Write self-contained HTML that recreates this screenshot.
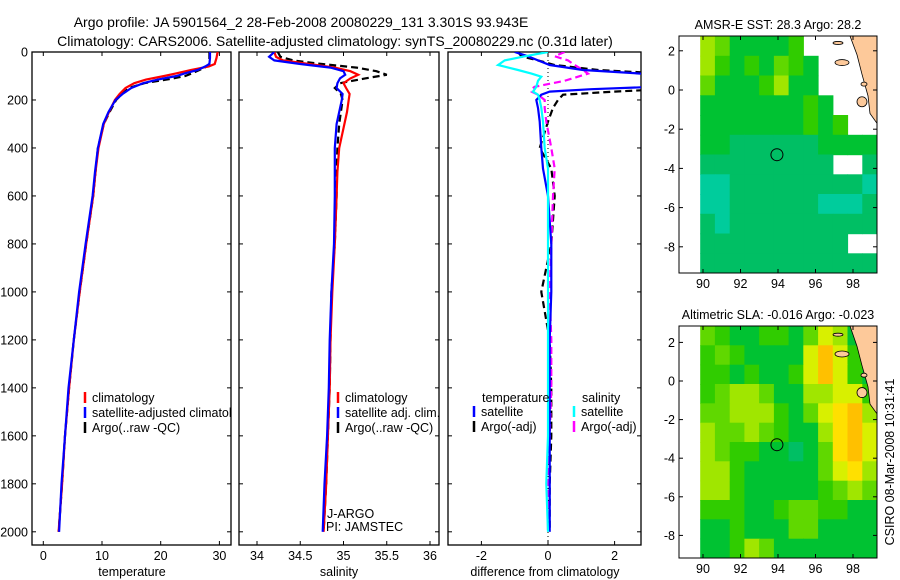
<!DOCTYPE html>
<html><head><meta charset="utf-8"><style>
html,body{margin:0;padding:0;background:#fff;}
svg{display:block;font-family:"Liberation Sans",sans-serif;}
</style></head><body>
<svg id="fig" width="900" height="580" viewBox="0 0 900 580" xmlns="http://www.w3.org/2000/svg">
<text x="301" y="27" font-size="14" text-anchor="middle">Argo profile: JA 5901564_2 28-Feb-2008 20080229_131 3.301S 93.943E</text>
<text x="335" y="46" font-size="14" text-anchor="middle">Climatology: CARS2006. Satellite-adjusted climatology: synTS_20080229.nc (0.31d later)</text>
<text transform="translate(894,462) rotate(-90)" font-size="12.5" text-anchor="middle">CSIRO 08-Mar-2008 10:31:41</text>
<g id="layer"></g>
</svg>
<script>
// ---- data ----
const depthT = [0,25,50,60,75,90,100,115,130,150,175,200,250,300,400,500,600,800,1000,1200,1400,1600,1800,2000];
const climT  = [29.7,29.5,29.2,28.2,25.2,22.5,20.6,17.5,15.5,14.0,13.0,12.2,11.2,10.3,9.4,8.9,8.5,7.3,6.2,5.2,4.4,3.7,3.2,2.6];
const satT   = [28.4,28.4,28.3,27.6,26.3,24.0,22.7,19.5,17.0,15.0,13.5,12.3,11.1,10.2,9.3,8.8,8.4,7.2,6.1,5.2,4.3,3.7,3.1,2.7];
const argoT  = [28.3,28.3,28.3,27.9,26.6,25.2,24.2,21.0,17.2,14.6,13.4,12.4,11.3,10.3,9.3,8.9,8.5,7.3,6.2,5.2,4.4,3.7,3.2,2.6];

const depthS = [0,20,35,50,65,80,95,110,130,150,175,200,250,300,400,500,600,800,1000,1200,1400,1600,1800,2000];
const climS  = [34.2,34.22,34.3,34.6,34.9,35.08,35.17,35.08,35.0,35.03,35.07,35.06,35.04,35.01,34.95,34.93,34.92,34.9,34.87,34.85,34.84,34.82,34.8,34.77];
const satS   = [34.2,34.14,34.2,34.5,34.85,35.0,35.02,34.96,34.93,34.92,34.99,34.98,34.95,34.92,34.9,34.9,34.9,34.89,34.86,34.84,34.83,34.81,34.78,34.76];
const argoS  = [34.24,34.27,34.42,34.75,35.15,35.38,35.5,35.25,34.96,34.9,34.97,34.99,34.97,34.95,34.93,34.92,34.92,34.9,34.86,34.85,34.84,34.82,34.8,34.77];

const depthD   = [0,18,35,54,75,90,103,120,145,155,165,178,200,233,290,400,486,600,800,1000,1200,1400,1600,1800,2000];
const dTsat    = [-1.0,-0.6,-0.3,0.05,1.05,2.8,3.5,3.5,3.2,1.3,0.05,-0.2,-0.35,-0.3,-0.25,-0.2,-0.15,0.0,0.1,0.1,0.05,0.05,0.05,0.05,0.05];
const dTargo   = [-0.9,-0.8,-0.3,0.2,1.5,3.5,3.5,3.5,3.5,3.5,2.0,0.45,0.3,0.15,0.0,-0.25,0.1,0.2,0.1,-0.2,0.05,0.1,0.1,0.05,0.05];
const dSsat    = [0.0,-0.7,-1.3,-1.5,-0.9,-0.5,-0.2,-0.3,-0.35,-0.4,-0.45,-0.3,-0.25,-0.2,-0.15,-0.1,0.0,0.0,0.0,0.0,0.0,0.0,0.0,-0.05,0.0];
const dSargo   = [0.5,0.2,0.6,0.8,1.05,1.2,0.9,0.5,-0.4,-0.5,-0.5,-0.3,-0.1,-0.1,-0.05,0.1,0.2,0.15,0.1,0.05,0.1,0.1,0.05,0.0,0.0];

const depthTicks = [0,200,400,600,800,1000,1200,1400,1600,1800,2000];
const tempTicks = [0,10,20,30];
const salTicks = [34,34.5,35,35.5,36];
const salTickLabels = ["34","34.5","35","35.5","36"];
const diffTicks = [-2,0,2];

const lonTicks = [90,92,94,96,98];
const latTicks = [2,0,-2,-4,-6,-8];
const argoLon = 93.943, argoLat = -3.301;
// color classes: -1 missing, 0 teal .. 9 orange
const sstGrid = [
 [5,4,2,2,2,2,3,-1,-1,-1,-1,-1],
 [5,3,2,3,2,4,3,2,-1,-1,-1,-1],
 [4,2,2,2,3,5,2,2,-1,-1,-1,-1],
 [2,2,2,2,2,2,2,3,2,-1,-1,-1],
 [2,2,2,2,2,2,2,3,2,3,-1,-1],
 [2,2,1,1,1,1,1,1,2,2,2,2],
 [1,1,1,1,1,1,1,1,1,-1,-1,1],
 [0,0,1,1,1,1,1,1,1,1,1,0],
 [0,0,1,1,1,1,1,1,0,0,0,1],
 [1,0,1,1,1,1,1,1,1,1,1,1],
 [1,1,1,1,1,1,1,1,1,1,-1,-1],
 [1,1,1,1,1,1,1,1,1,1,1,1]];
const slaGrid = [
 [4,3,2,2,3,3,2,4,6,5,2,2],
 [3,4,3,2,2,2,2,6,8,6,3,2],
 [3,3,2,3,2,2,3,6,8,6,3,2],
 [3,4,5,5,4,2,2,5,5,6,6,3],
 [4,4,5,5,5,3,2,4,6,7,8,5],
 [5,4,4,5,4,3,2,2,5,7,8,6],
 [5,4,3,3,2,2,1,2,4,7,8,6],
 [5,5,3,2,2,2,2,2,4,6,7,5],
 [5,5,3,2,2,2,2,2,3,4,5,4],
 [3,3,3,2,2,3,4,4,3,3,2,2],
 [2,2,3,2,2,2,4,4,2,2,2,2],
 [2,2,3,5,4,2,2,2,2,2,2,2]];
const palette = ["#00cc9c","#00bf64","#00c232","#30cc00","#60d800","#a0e600","#d8f000","#ffe000","#ffc000","#ffb000"];

// ---- helpers ----
const NS="http://www.w3.org/2000/svg";
const layer=document.getElementById('layer');
function mk(tag,attrs,parent){const e=document.createElementNS(NS,tag);for(const k in attrs)e.setAttribute(k,attrs[k]);(parent||layer).appendChild(e);return e;}

const yTop=52, yPer=0.2399;
const yD = d => yTop + d*yPer;
const panels = [
 {x0:32,x1:231, sx:v=>43.3+v*5.87, name:'temperature-panel'},
 {x0:239,x1:439, sx:v=>257+(v-34)*86.5, name:'salinity-panel'},
 {x0:448,x1:641, sx:v=>548+v*33.3, name:'difference-panel'}
];
const B=545;

panels.forEach((p,i)=>{
  const g=mk('g',{});
  
  
  const cp=mk('clipPath',{id:'clip'+i},g);
  mk('rect',{x:p.x0,y:yTop,width:p.x1-p.x0,height:B-yTop},cp);
  const box=mk('rect',{x:p.x0,y:yTop,width:p.x1-p.x0,height:B-yTop,fill:'#fff',stroke:'#000','stroke-width':1.3},g);
  
  
  depthTicks.forEach(d=>{
    mk('line',{x1:p.x0,x2:p.x0+4,y1:yD(d),y2:yD(d),stroke:'#000'},g);
    mk('line',{x1:p.x1-4,x2:p.x1,y1:yD(d),y2:yD(d),stroke:'#000'},g);
    if(i===0){const t=mk('text',{x:28,y:yD(d)+4.5,'font-size':12.5,'text-anchor':'end'},g);t.textContent=d;
      
      }
  });
});

function xTicks(p,vals,labels,axisName){
  vals.forEach((v,k)=>{
    const x=p.sx(v);
    mk('line',{x1:x,x2:x,y1:B,y2:B-4,stroke:'#000'});
    mk('line',{x1:x,x2:x,y1:yTop,y2:yTop+4,stroke:'#000'});
    const t=mk('text',{x:x,y:B+15,'font-size':12.5,'text-anchor':'middle'});
    t.textContent=labels[k];
    
    
  });
}
xTicks(panels[0],tempTicks,tempTicks.map(String),'temperature');
xTicks(panels[1],salTicks,salTickLabels,'salinity');
xTicks(panels[2],diffTicks,diffTicks.map(String),'difference');
[['temperature',132,'temperature-axis-title'],['salinity',339,'salinity-axis-title'],['difference from climatology',545,'difference-axis-title']].forEach(a=>{
  const t=mk('text',{x:a[1],y:576,'font-size':12.5,'text-anchor':'middle'});t.textContent=a[0];
  
  
});

function line(pi,depths,vals,color,dash,name,w){
  const p=panels[pi];
  const pts=depths.map((d,k)=>p.sx(vals[k]).toFixed(1)+','+yD(d).toFixed(1)).join(' ');
  const e=mk('polyline',{points:pts,fill:'none',stroke:color,'stroke-width':w||2.2,'clip-path':'url(#clip'+pi+')'});
  if(dash)e.setAttribute('stroke-dasharray',dash);
  
  
}
const zl=mk('line',{x1:panels[2].sx(0),x2:panels[2].sx(0),y1:yTop,y2:B,stroke:'#000','stroke-dasharray':'1,3'});



line(0,depthT,argoT,'#000','7,4','argo-temperature-line');
line(0,depthT,climT,'#f00',null,'climatology-temperature-line');
line(0,depthT,satT,'#00f',null,'satellite-temperature-line');
line(1,depthS,argoS,'#000','7,4','argo-salinity-line');
line(1,depthS,climS,'#f00',null,'climatology-salinity-line');
line(1,depthS,satS,'#00f',null,'satellite-salinity-line');
line(2,depthD,dTargo,'#000','7,4','argo-temperature-diff-line');
line(2,depthD,dSargo,'#f0f','7,4','argo-salinity-diff-line');
line(2,depthD,dTsat,'#00f',null,'satellite-temperature-diff-line');
line(2,depthD,dSsat,'#0ff',null,'satellite-salinity-diff-line');

function legend(x,y,color,label,name,clip){
  if(color){const m=mk('line',{x1:x,x2:x,y1:y-10,y2:y+1,stroke:color,'stroke-width':2.5});
    
    }
  const t=mk('text',{x:x+7,y:y,'font-size':12.5});
  if(clip)t.setAttribute('clip-path','url(#clip0)');
  t.textContent=label;
  
  
}
legend(85,402,'#f00','climatology','legend-climatology',true);
legend(85,417,'#00f','satellite-adjusted climatology','legend-satellite-adjusted',true);
legend(85,432,'#000','Argo(..raw -QC)','legend-argo-raw',true);
legend(338,402,'#f00','climatology','legend-sal-climatology');
legend(338,417,'#00f','satellite adj. clim.','legend-sal-satellite');
legend(338,432,'#000','Argo(..raw -QC)','legend-sal-argo');
legend(475,402,null,'temperature','legend-temperature-heading');
legend(474,416,'#00f','satellite','legend-diff-temp-satellite');
legend(474,431,'#000','Argo(-adj)','legend-diff-temp-argo');
legend(575,402,null,'salinity','legend-salinity-heading');
legend(574,416,'#0ff','satellite','legend-diff-sal-satellite');
legend(574,431,'#f0f','Argo(-adj)','legend-diff-sal-argo');
{const t=mk('text',{x:327,y:518,'font-size':12.5});t.textContent='J-ARGO';
 
 
 const t2=mk('text',{x:326,y:531,'font-size':12.5});t2.textContent='PI: JAMSTEC';
 
 }

// ---- maps ----
const mx0=679,mx1=877;
const mlon = lon => 703 + (lon-90)*18.75;
function drawMap(top,bot,lat0,latPer,grid,title,name){
  const my = lat => lat0 - lat*latPer;
  const g=mk('g',{});
  
  
  const cid='c'+name;
  const cp=mk('clipPath',{id:cid},g);
  mk('rect',{x:mx0,y:top,width:mx1-mx0,height:bot-top},cp);
  mk('rect',{x:mx0,y:top,width:mx1-mx0,height:bot-top,fill:'#fff'},g);
  const latTop=(lat0-top)/latPer, latBot=(lat0-bot)/latPer;
  const lonL=89.85, lonR=(mx1-703)/18.75+90;
  const nr=grid.length,nc=grid[0].length;
  const dLon=(lonR-lonL)/nc, dLat=(latTop-latBot)/nr;
  const cg=mk('g',{'clip-path':'url(#'+cid+')'},g);
  for(let r=0;r<nr;r++)for(let c=0;c<nc;c++){
    const v=grid[r][c]; if(v<0)continue;
    const x=mlon(lonL+c*dLon), y=my(latTop-r*dLat);
    const cell=mk('rect',{x:x.toFixed(1),y:y.toFixed(1),width:(dLon*18.75+0.6).toFixed(1),height:(dLat*latPer+0.6).toFixed(1),fill:palette[v]},cg);
    
    
  }
  const land=mk('polygon',{points:[[850,top],[877,top],[877,my(-1.7)],[870,my(-1.2)],[868,my(-0.3)],[862,my(0.8)],[857,my(1.8)]].map(p=>p.join(',')).join(' '),fill:'#fdc99a',stroke:'#000','stroke-width':0.8},cg);
  
  
  [[842,my(1.4),7,3],[862,my(-0.6),5,5],[838,my(2.4),5,1.5],[864,my(0.3),3,2]].forEach(a=>{
    const e=mk('ellipse',{cx:a[0],cy:a[1],rx:a[2],ry:a[3],fill:'#fdc99a',stroke:'#000','stroke-width':0.8},cg);
    
    
  });
  const circ=mk('circle',{cx:mlon(argoLon),cy:my(argoLat),r:6,fill:'none',stroke:'#000','stroke-width':1},g);
  
  
  mk('rect',{x:mx0,y:top,width:mx1-mx0,height:bot-top,fill:'none',stroke:'#000','stroke-width':1},g);
  lonTicks.forEach(l=>{
    const x=mlon(l);
    mk('line',{x1:x,x2:x,y1:bot,y2:bot-4,stroke:'#000'},g);
    mk('line',{x1:x,x2:x,y1:top,y2:top+4,stroke:'#000'},g);
    const t=mk('text',{x:x,y:bot+15,'font-size':12.5,'text-anchor':'middle'},g);t.textContent=l;
    
    
  });
  latTicks.forEach(l=>{
    const y=my(l);
    mk('line',{x1:mx0,x2:mx0+4,y1:y,y2:y,stroke:'#000'},g);
    mk('line',{x1:mx1-4,x2:mx1,y1:y,y2:y,stroke:'#000'},g);
    const t=mk('text',{x:675,y:y+4.5,'font-size':12.5,'text-anchor':'end'},g);t.textContent=l;
    
    
  });
  const tt=mk('text',{x:778,y:top-7,'font-size':12.5,'text-anchor':'middle'},g);tt.textContent=title;
  
  
}
drawMap(36,273,90,19.6,sstGrid,'AMSR-E SST: 28.3 Argo: 28.2','sst-map');
drawMap(326,558,381,19.3,slaGrid,'Altimetric SLA: -0.016 Argo: -0.023','sla-map');
</script>
</body></html>
